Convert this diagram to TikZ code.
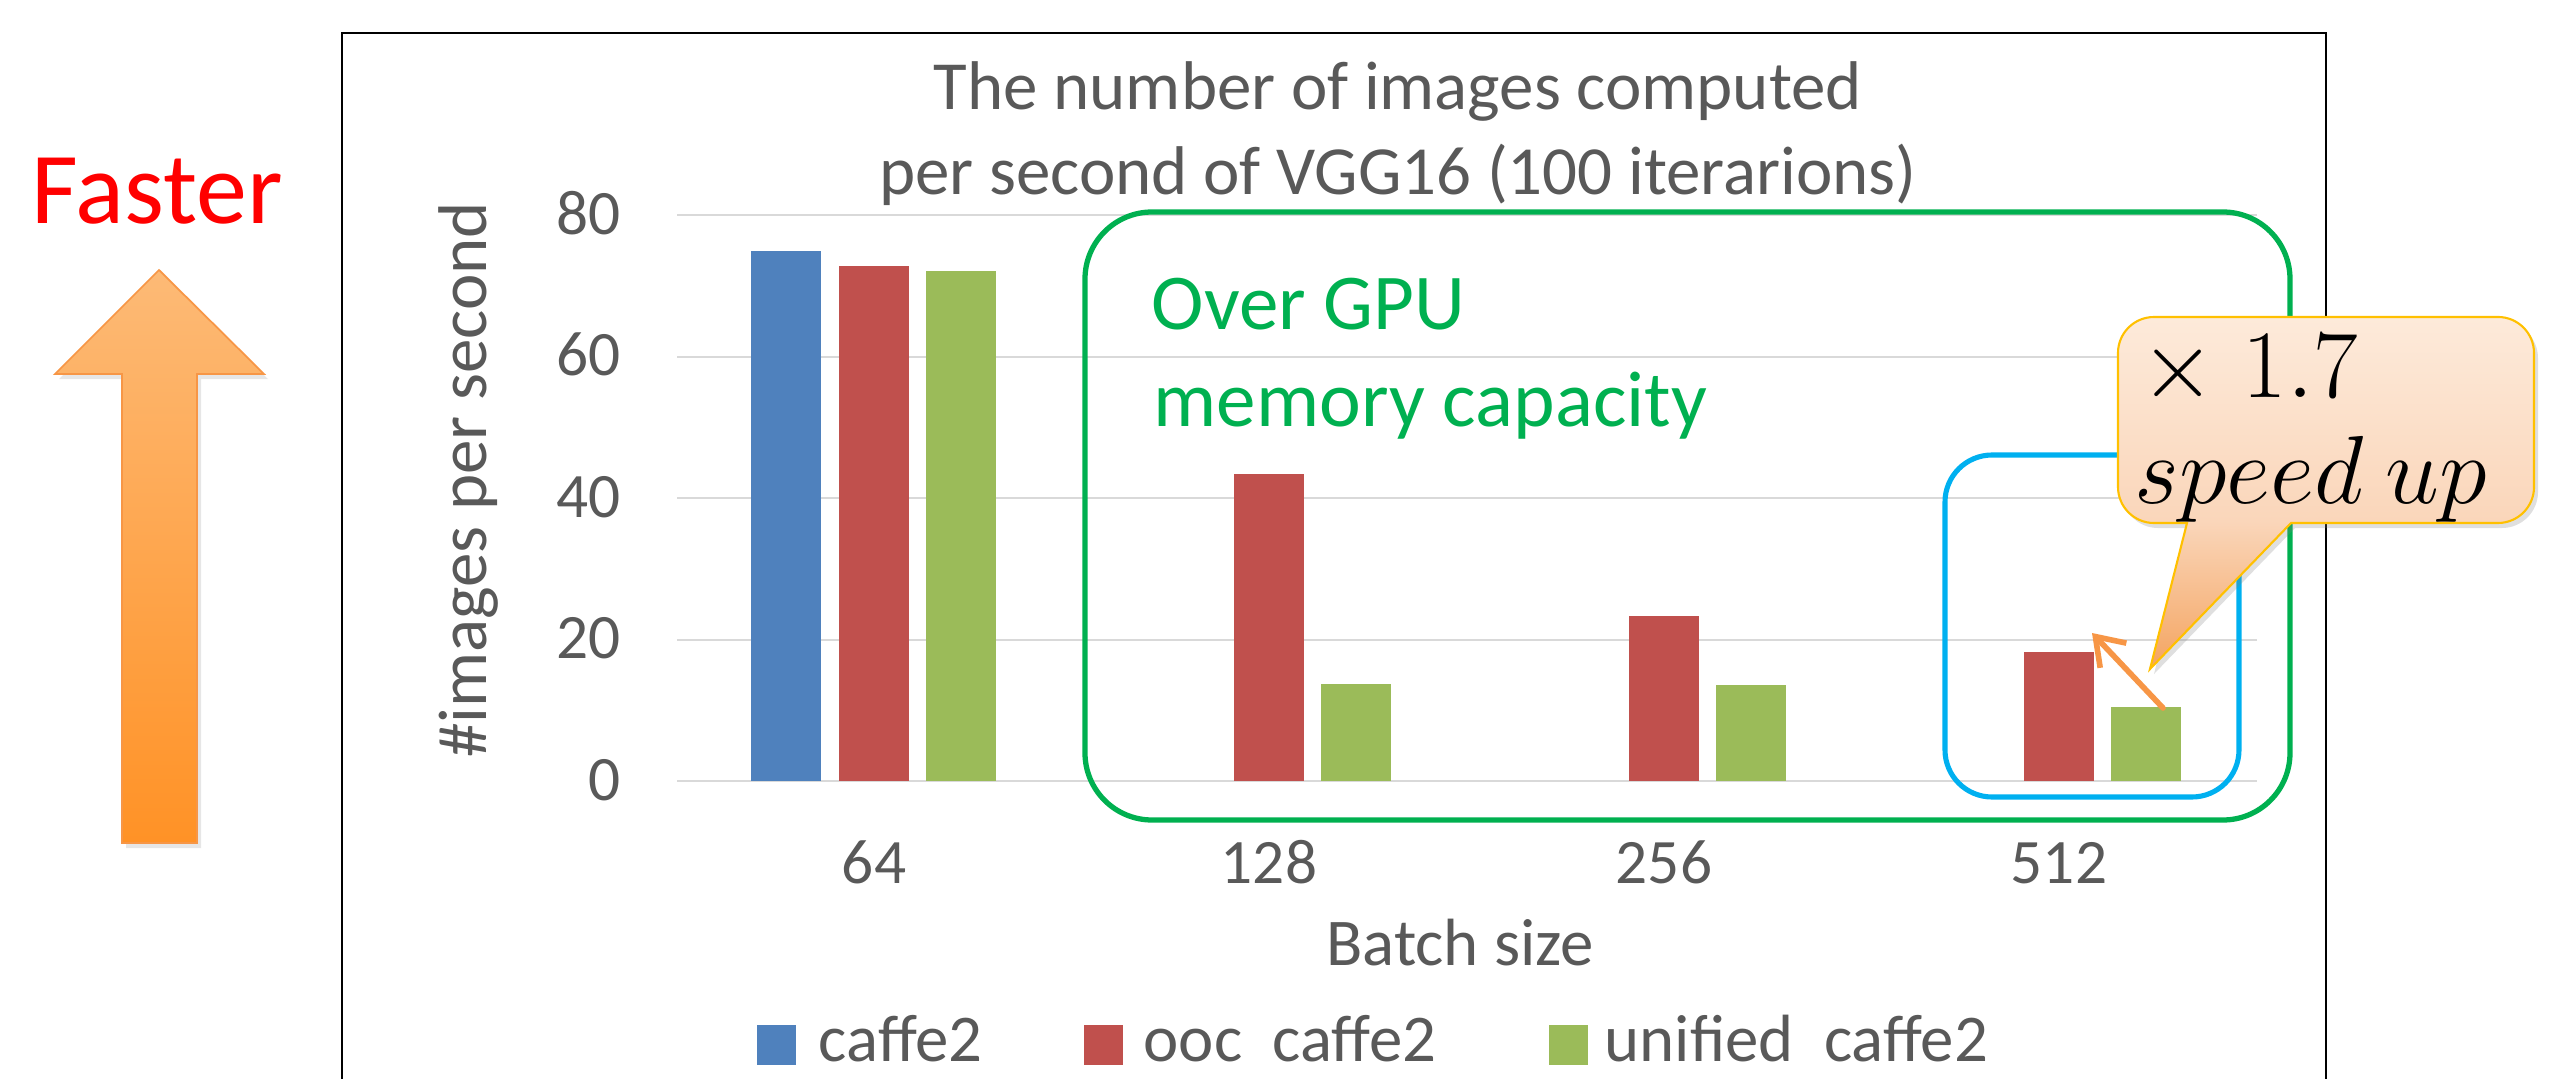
\RequirePackage{fix-cm}
\documentclass[tikz,border=0pt]{standalone}
\usepackage[no-math]{fontspec}
\setmainfont{Carlito}
\usetikzlibrary{arrows.meta,shadows}
\definecolor{ccblue}{RGB}{79,129,189}
\definecolor{ccred}{RGB}{192,80,77}
\definecolor{ccgreen}{RGB}{155,187,89}
\definecolor{gridgray}{RGB}{217,217,217}
\definecolor{txtgray}{RGB}{89,89,89}
\definecolor{boxgreen}{RGB}{0,176,80}
\definecolor{boxblue}{RGB}{0,176,240}
\definecolor{tipedge}{RGB}{255,192,0}
\definecolor{tiporange}{RGB}{247,150,70}
\definecolor{callouttop}{RGB}{253,234,218}
\definecolor{calloutmid}{RGB}{250,214,186}
\definecolor{calloutdeep}{RGB}{244,164,96}
\definecolor{fasttop}{RGB}{253,186,118}
\definecolor{fastbot}{RGB}{255,146,38}
\pgfdeclareverticalshading{calloutfill}{100bp}{color(0bp)=(calloutdeep); color(25bp)=(calloutdeep); color(46bp)=(calloutmid); color(75bp)=(callouttop); color(100bp)=(callouttop)}
\tikzset{
    charttext/.style={text=txtgray, inner sep=0pt, font=\fontsize{19}{23}\selectfont},
    titletext/.style={text=txtgray, inner sep=0pt, font=\fontsize{19.6}{23}\selectfont},
    ticktext/.style={text=txtgray, inner sep=0pt, font=\fontsize{18}{22}\selectfont},
    gputext/.style={text=boxgreen, inner sep=0pt, anchor=base west, font=\fontsize{22.5}{27}\selectfont},
    mathtext/.style={text=black, inner sep=0pt, anchor=base west, font=\fontsize{27.5}{33}\selectfont},
    legbox/.style={fill=#1, minimum width=0.39cm, minimum height=0.40cm, inner sep=0pt, anchor=north west},
}
\begin{document}
\begin{tikzpicture}[x=0.01cm, y=-0.01cm]
        \useasboundingbox (0,0) rectangle (2556,1079);
        \clip (0,0) rectangle (2556,1079);
        %% chart frame
        \draw[line width=0.55pt] (342,1079) -- (342,33) -- (2326,33) -- (2326,1079);
        \draw[line width=0.8pt] (342,33) -- (2326,33);
        %% title
        \node[titletext, anchor=base] (title1) at (1398,110) {The number of images computed};
        \node[titletext, anchor=base] (title2) at (1398,195) {per second of VGG16 (100 iterarions)};
        %% grid and ticks
        \foreach \v in {0,20,...,80}
        {
            \draw[gridgray, line width=0.6pt] (677,{781-7.07*\v}) -- (2257,{781-7.07*\v});
            \node[ticktext, anchor=base east] (tick\v) at (621,{781-7.07*\v+19}) {\v};
        }
        \node[titletext, rotate=90] (ylabel) at (468,480) {\#images per second};
        %% bars
        \foreach \x/\v in {786/75}
            \fill[ccblue] (\x-35,781) rectangle (\x+35,{781-7.07*\v});
        \foreach \x/\v in {874/72.9,1269/43.4,1664/23.3,2059/18.3}
            \fill[ccred] (\x-35,781) rectangle (\x+35,{781-7.07*\v});
        \foreach \x/\v in {961/72.1,1356/13.7,1751/13.6,2146/10.5}
            \fill[ccgreen] (\x-35,781) rectangle (\x+35,{781-7.07*\v});
        %% categories
        \foreach \x/\n in {874/64,1269/128,1664/256,2059/512}
            \node[ticktext, anchor=base] (cat\n) at (\x,883) {\n};
        \node[charttext, anchor=base] (xlabel) at (1460,965) {Batch size};
        %% legend
        \node[legbox=ccblue] (leg1box) at (756,1024) {};
        \node[charttext, anchor=base west] (leg1) at (818,1061) {caffe2};
        \node[legbox=ccred] (leg2box) at (1083,1024) {};
        \node[charttext, anchor=base west] (leg2) at (1143,1061) {ooc\ \ caffe2};
        \node[legbox=ccgreen] (leg3box) at (1548,1024) {};
        \node[charttext, anchor=base west] (leg3) at (1604,1061) {unified\ \ caffe2};
        %% highlight boxes
        \draw[boxgreen, line width=1.5pt, rounded corners=0.67cm] (1085,212) rectangle (2290,820);
        \node[gputext] (gpu1) at (1151,330) {Over GPU};
        \node[gputext] (gpu2) at (1153,426) {memory capacity};
        \draw[boxblue, line width=1.45pt, rounded corners=0.47cm] (1945,455) rectangle (2239,797);
        %% speed up arrow
        \coordinate (uptail) at (2163,708);
        \coordinate (uptip) at (2092,633);
        \draw[tiporange, line width=1.6pt, line cap=round, -{Straight Barb[length=2.6mm,width=3.6mm]}] (uptail) -- (uptip);
        %% callout
        \path[draw=tipedge, line width=0.6pt, shading=calloutfill,
              drop shadow={opacity=0.25, shadow xshift=0.04cm, shadow yshift=-0.05cm}]
            (2291,523) -- (2498,523) arc[start angle=270, end angle=360, radius=0.36cm]
            -- (2534,353) arc[start angle=0, end angle=90, radius=0.36cm]
            -- (2154,317) arc[start angle=90, end angle=180, radius=0.36cm]
            -- (2118,487) arc[start angle=180, end angle=270, radius=0.36cm]
            -- (2187,523) -- (2150,669) -- cycle;
        \node[mathtext] (times) at (2140,397) {$\times\;1.7$};
        \node[mathtext] (speedup) at (2134,503) {$speed\ up$};
        %% faster arrow
        \path[draw=tiporange, line width=0.5pt, top color=fasttop, bottom color=fastbot,
              drop shadow={opacity=0.2, shadow xshift=0.04cm, shadow yshift=-0.05cm}]
            (159,270) -- (264,374) -- (197,374) -- (197,843) -- (122,843) -- (122,374) -- (55,374) -- cycle;
        \node[text=red, inner sep=0pt, anchor=base, font=\fontsize{29}{35}\selectfont] (faster) at (157,224) {Faster};
    \end{tikzpicture}
\end{document}
